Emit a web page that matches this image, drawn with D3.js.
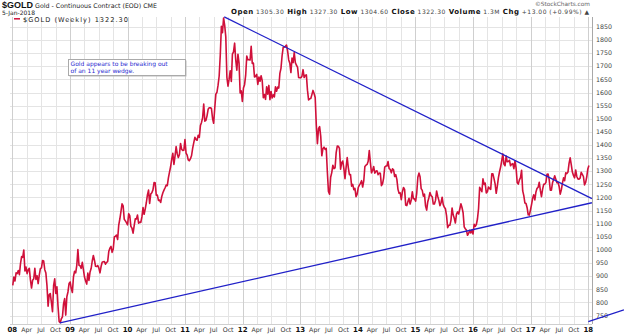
<!DOCTYPE html>
<html><head><meta charset="utf-8">
<script src="https://cdn.jsdelivr.net/npm/d3@7"></script>
<style>body{margin:0;background:#fff}svg{display:block}</style>
</head><body>
<svg id="c" width="624" height="335"></svg>
<script>
// Weekly closes ($GOLD continuous contract), Fridays from 4-Jan-2008
const gold2008=[865,897,882,913, 910,922,906,948,975, 972,1000,920,935, 910,925,930,886, 855,885,890,930,888, 902,872,904,929, 932,960,958,925, 912,864,786,830,834, 800,765,865,890, 834,860,785,728,723, 738,745,795,815, 752,822,840,872];
const gold2009=[878,853,838,898,919, 913,941,1002,942, 940,930,953,925, 897,882,870,912, 884,916,929,958,979, 961,938,937,941, 931,913,937,953,955, 956,946,953,956, 995,1007,1014,991, 1003,1050,1052,1057,1040, 1095,1118,1146,1176, 1168,1117,1111,1104];
const gold2010=[1096,1138,1131,1090,1083, 1064,1093,1119,1118, 1133,1102,1106,1105, 1126,1162,1136,1156,1180, 1210,1228,1177,1213, 1218,1229,1257,1256, 1209,1209,1189,1190,1181, 1204,1218,1228,1237, 1247,1245,1275,1297, 1317,1346,1368,1326,1358, 1394,1367,1352,1364, 1406,1384,1379,1380,1421];
const gold2011=[1369,1361,1343,1340, 1348,1360,1388,1409, 1429,1421,1418,1437, 1429,1474,1486,1504,1556, 1491,1494,1511,1536, 1542,1542,1539,1501, 1483,1541,1594,1601,1628, 1663,1743,1852,1828, 1884,1856,1812,1658,1624, 1651,1683,1642,1746, 1755,1788,1724,1685, 1746,1713,1598,1606,1566];
const gold2012=[1617,1630,1665,1739, 1725,1725,1724,1776, 1711,1712,1659,1662,1669, 1631,1659,1643,1664, 1645,1580,1592,1574, 1622,1594,1627,1573,1604, 1579,1591,1583,1622, 1605,1621,1617,1673,1692, 1740,1772,1773,1776, 1781,1759,1724,1712, 1676,1731,1714,1752,1714, 1704,1697,1657,1656];
const gold2013=[1656,1662,1687,1657, 1666,1667,1609,1572, 1576,1577,1592,1608,1596, 1581,1476,1405,1462, 1470,1434,1359,1386,1392, 1383,1387,1298,1223, 1213,1277,1295,1323, 1310,1313,1371,1396,1395, 1387,1308,1333,1339, 1309,1272,1315,1352, 1314,1287,1287,1243,1250, 1230,1235,1203,1213];
const gold2014=[1238,1247,1254,1264,1240, 1263,1318,1323,1326, 1338,1379,1333,1294, 1303,1318,1293,1300, 1302,1287,1293,1292,1245, 1252,1274,1316,1320, 1320,1337,1310,1307, 1294,1309,1305,1280,1287, 1269,1231,1216,1218, 1192,1222,1238,1231,1171, 1169,1185,1197,1175, 1190,1222,1195,1195];
const gold2015=[1186,1217,1277,1293,1279, 1234,1227,1205,1213, 1167,1152,1184,1199, 1219,1207,1203,1175, 1175,1189,1225,1205,1190, 1169,1180,1201,1173, 1163,1157,1131,1085,1094, 1094,1113,1160,1134, 1121,1103,1137,1145, 1137,1156,1176,1162,1142, 1088,1081,1076,1056, 1063,1075,1065,1076];
const gold2016=[1061,1098,1090,1097,1118, 1158,1239,1231,1222, 1271,1250,1255,1217, 1222,1240,1234,1231,1290, 1290,1272,1252,1216, 1243,1276,1298,1316, 1340,1366,1327,1321,1358, 1336,1337,1342,1321, 1327,1329,1310,1340,1313, 1257,1251,1267,1276, 1304,1225,1207,1179, 1177,1161,1134,1133,1152];
const gold2017=[1173,1197,1210,1191, 1221,1235,1239,1258, 1227,1203,1231,1250,1251, 1257,1288,1289,1268, 1228,1228,1256,1269, 1283,1270,1256,1257,1242, 1213,1229,1255,1275, 1264,1294,1291,1297, 1330,1351,1325,1297,1284, 1275,1305,1280,1271, 1270,1274,1296,1288, 1280,1248,1257,1278,1309];
const gold2018=[1322];
const firstWeek="2008-01-04";

// Trendlines: [date, price]
const upperTrend=[["2011-09-06",1888],["2018-01-24",1196]];
const lowerTrend=[["2008-10-29",722],["2018-01-24",1180]];
const strayTrend=[["2018-01-01",727],["2018-08-15",772]];

const yTicks=[750,800,850,900,950,1000,1050,1100,1150,1200,1250,1300,1350,1400,1450,1500,1550,1600,1650,1700,1750,1800,1850];
const yearLabels=["08","09","10","11","12","13","14","15","16","17","18"];
const monthLabels=["Apr","Jul","Oct"];

const svg=d3.select("#c");
const plot={l:10,r:592,t:17,b:324};
const x=d3.scaleTime().domain([new Date(2008,0,1),new Date(2018,0,1)]).range([12.3,588.3]);
const y=d3.scaleLinear().domain([750,1850]).range([315.6,26.9]);
const font="'DejaVu Sans', Verdana, sans-serif";

const gold=[].concat(gold2008,gold2009,gold2010,gold2011,gold2012,gold2013,gold2014,gold2015,gold2016,gold2017,gold2018);
const t0=d3.timeParse("%Y-%m-%d")(firstWeek);
const series=gold.map((v,i)=>({date:d3.timeDay.offset(t0,7*i),v}));
const pd=d3.timeParse("%Y-%m-%d");

// grid
const grid=svg.append("g");
yTicks.forEach(v=>{
  const yy=Math.round(y(v))+0.5;
  grid.append("line").attr("x1",plot.l).attr("x2",plot.r).attr("y1",yy).attr("y2",yy).attr("stroke","#e4e4e4");
});
const quarters=d3.timeMonth.every(3).range(new Date(2008,0,1),new Date(2018,0,2));
quarters.forEach(q=>{
  const xx=Math.round(x(q))+0.5;
  const isYear=q.getMonth()===0;
  grid.append("line").attr("x1",xx).attr("x2",xx).attr("y1",plot.t).attr("y2",plot.b)
    .attr("stroke",isYear?"#cfcfcf":"#e4e4e4");
});
// frame
svg.append("line").attr("x1",plot.r+0.5).attr("x2",plot.r+0.5).attr("y1",plot.t).attr("y2",plot.b).attr("stroke","#a8a8a8");
svg.append("line").attr("x1",plot.l).attr("x2",plot.r).attr("y1",plot.b+0.5).attr("y2",plot.b+0.5).attr("stroke","#cfcfcf");

// y labels
svg.append("g").selectAll("text").data(yTicks).join("text")
  .attr("x",596).attr("y",d=>y(d)+2.2).text(d=>d)
  .attr("font-family",font).attr("font-size",6.3).attr("fill","#444");

// x labels
svg.append("g").selectAll("text").data(quarters).join("text")
  .attr("x",d=>x(d)).attr("y",332).attr("text-anchor","middle")
  .attr("font-family",font).attr("font-size",d=>d.getMonth()===0?7:6.3)
  .attr("font-weight",d=>d.getMonth()===0?"bold":"normal")
  .attr("fill",d=>d.getMonth()===0?"#111":"#333")
  .text(d=>d.getMonth()===0?yearLabels[d.getFullYear()-2008]:monthLabels[d.getMonth()/3-1]);

// price line
const line=d3.line().x(d=>x(d.date)).y(d=>y(d.v));
svg.append("path").datum(series).attr("d",line).attr("fill","none")
  .attr("stroke","#d0103a").attr("stroke-width",1.6).attr("stroke-linejoin","round");

// trendlines
const tl=d3.line().x(d=>x(pd(d[0]))).y(d=>y(d[1]));
[upperTrend,lowerTrend,strayTrend].forEach(t=>{
  svg.append("path").datum(t).attr("d",tl).attr("fill","none").attr("stroke","#2020c8").attr("stroke-width",1.3);
});

// header
const h=svg.append("text").attr("x",2).attr("y",8).attr("font-family",font);
h.append("tspan").text("$GOLD").attr("font-family","'Liberation Sans', Arial, sans-serif").attr("font-weight","bold").attr("font-size",9).attr("fill","#111");
h.append("tspan").text(" Gold - Continuous Contract (EOD) CME").attr("font-size",6.3).attr("fill","#222");
svg.append("text").attr("x",2).attr("y",14.6).text("5-Jan-2018").attr("font-family",font).attr("font-size",6).attr("fill","#222");
svg.append("text").attr("x",590).attr("y",6).attr("text-anchor","end").text("©StockCharts.com")
  .attr("font-family",font).attr("font-size",5.8).attr("fill","#666");
const stats=[["Open","1305.30"],["High","1327.30"],["Low","1304.60"],["Close","1322.30"],["Volume","1.3M"],["Chg","+13.00 (+0.99%) ▲"]];
const st=svg.append("text").attr("x",231).attr("y",14).attr("font-family",font).attr("textLength",358).attr("lengthAdjust","spacing");
stats.forEach((s,i)=>{
  st.append("tspan").text((i?" ":"")+s[0]).attr("font-weight","bold").attr("font-size",7).attr("fill","#111");
  st.append("tspan").text(" "+s[1]).attr("font-size",6).attr("fill","#444");
});

// legend
svg.append("line").attr("x1",14).attr("x2",20).attr("y1",18.8).attr("y2",18.8).attr("stroke","#d0103a").attr("stroke-width",1.5);
svg.append("text").attr("x",23).attr("y",21.5).text("$GOLD (Weekly) 1322.30")
  .attr("font-family",font).attr("font-size",6.6).attr("fill","#222")
  .attr("textLength",105).attr("lengthAdjust","spacing");

// annotation
svg.append("rect").attr("x",69.5).attr("y",60.5).attr("width",117).attr("height",16).attr("fill","#bbb");
svg.append("rect").attr("x",68.5).attr("y",59.5).attr("width",117).attr("height",16).attr("fill","#fff").attr("stroke","#aaa");
const ann=svg.append("text").attr("font-family",font).attr("font-size",6).attr("fill","#2a2ad0");
ann.append("tspan").attr("x",70.5).attr("y",65.8).text("Gold appears to be breaking out");
ann.append("tspan").attr("x",70.5).attr("y",72.5).text("of an 11 year wedge.");
</script>
</body></html>
